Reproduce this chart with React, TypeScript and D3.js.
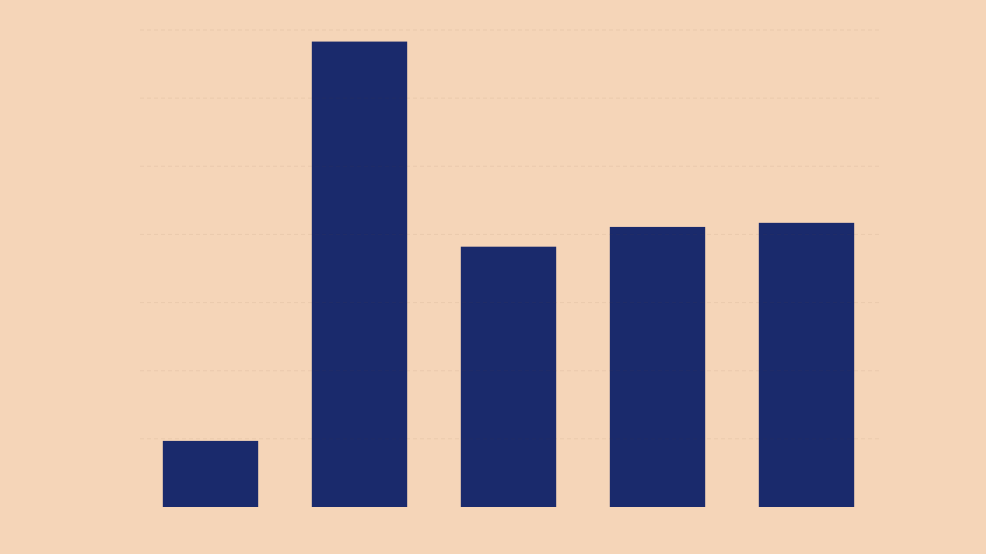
import React, { useRef, useEffect } from 'react';
import * as d3 from 'd3';

const categories = ['A', 'B', 'C', 'D', 'E'];
const values = [9.7, 68.3, 38.2, 41.1, 41.7];
const yTicks = [0, 10, 20, 30, 40, 50, 60, 70];

const WIDTH = 986;
const HEIGHT = 554;

const App: React.FC = () => {
  const svgRef = useRef<SVGSVGElement>(null);

  useEffect(() => {
    if (!svgRef.current) return;
    d3.select(svgRef.current).selectAll('*').remove();

    const margin = { top: 30, right: 105, bottom: 47, left: 136 };
    const innerWidth = WIDTH - margin.left - margin.right;
    const innerHeight = HEIGHT - margin.top - margin.bottom;

    const svg = d3
      .select(svgRef.current)
      .attr('width', WIDTH)
      .attr('height', HEIGHT);

    svg
      .append('rect')
      .attr('width', WIDTH)
      .attr('height', HEIGHT)
      .attr('fill', '#f5d5b8');

    const g = svg
      .append('g')
      .attr('transform', `translate(${margin.left},${margin.top})`);

    const xScale = d3
      .scaleBand<string>()
      .domain(categories)
      .range([0, innerWidth])
      .paddingInner(0.36)
      .paddingOuter(0.18);

    const yScale = d3
      .scaleLinear()
      .domain([0, 70])
      .range([innerHeight, 0]);

    // bars
    g.selectAll('.bar')
      .data(values)
      .enter()
      .append('rect')
      .attr('class', 'bar')
      .attr('x', (_, i) => xScale(categories[i]) as number)
      .attr('y', (d) => yScale(d))
      .attr('width', xScale.bandwidth())
      .attr('height', (d) => innerHeight - yScale(d))
      .attr('fill', '#1a2a6c');

    // faint dashed grid lines
    g.append('g')
      .attr('class', 'grid')
      .selectAll('line')
      .data(yTicks.slice(1))
      .enter()
      .append('line')
      .attr('x1', 4)
      .attr('x2', innerWidth + 1)
      .attr('y1', (d) => yScale(d))
      .attr('y2', (d) => yScale(d))
      .attr('stroke', 'rgba(120, 80, 50, 0.08)')
      .attr('stroke-dasharray', '4,3');

    // baseline
    g.append('line')
      .attr('x1', xScale(categories[0]) as number)
      .attr('x2', (xScale(categories[categories.length - 1]) as number) + xScale.bandwidth())
      .attr('y1', innerHeight - 0.5)
      .attr('y2', innerHeight - 0.5)
      .attr('stroke', 'rgba(10, 20, 80, 0.0)');
  }, []);

  return (
    <div
      style={{
        position: 'fixed',
        left: 0,
        top: 0,
        width: WIDTH,
        height: HEIGHT,
        background: '#f5d5b8',
      }}
    >
      <svg ref={svgRef} style={{ display: 'block' }}></svg>
    </div>
  );
};

export default App;
